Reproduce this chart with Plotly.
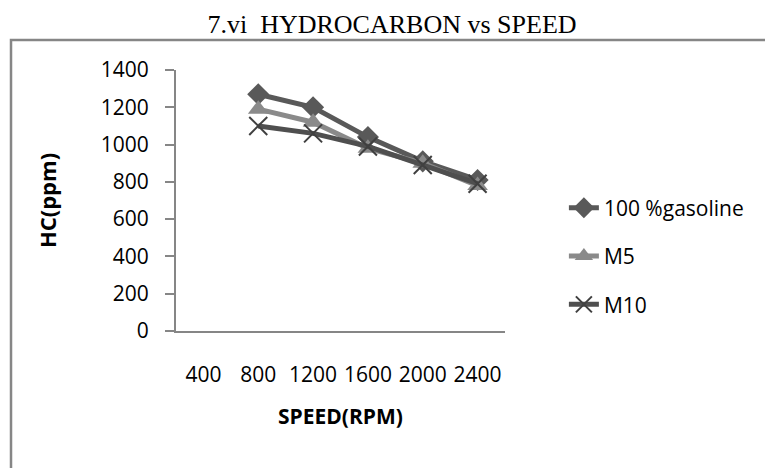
import plotly.graph_objects as go

speed_categories = ["400", "800", "1200", "1600", "2000", "2400"]
speed_measured = ["800", "1200", "1600", "2000", "2400"]
hc_gasoline = [1270, 1200, 1040, 910, 810]
hc_m5 = [1190, 1120, 980, 900, 780]
hc_m10 = [1100, 1060, 990, 890, 790]
y_ticks = [0, 200, 400, 600, 800, 1000, 1200, 1400]

FONT = "Open Sans"
AXIS_GRAY = "#868686"

fig = go.Figure()
fig.add_trace(go.Scatter(
    x=speed_measured, y=hc_gasoline, name="100 %gasoline", mode="lines+markers",
    legendgroup="a",
    line=dict(color="#595959", width=5),
    marker=dict(symbol="diamond", size=17, color="#595959"),
))
fig.add_trace(go.Scatter(
    x=speed_measured, y=hc_m5, name="M5", mode="lines+markers",
    legendgroup="b",
    line=dict(color="#8a8a8a", width=5),
    marker=dict(symbol="triangle-up", size=18, color="#8a8a8a"),
))
fig.add_trace(go.Scatter(
    x=speed_measured, y=hc_m10, name="M10", mode="lines+markers",
    legendgroup="c",
    line=dict(color="#4f4f4f", width=5),
    marker=dict(symbol="x-thin-open", size=18, color="#404040",
                line=dict(color="#404040", width=2)),
))

fig.update_layout(
    width=773, height=468,
    margin=dict(l=168, r=276, t=62, b=145),
    paper_bgcolor="white", plot_bgcolor="white",
    font=dict(family=FONT, size=21, color="#000000"),
    title=dict(text="7.vi  HYDROCARBON vs SPEED", x=(392 - 8) / 773, xanchor="center",
               y=1 - 16 / 468, yanchor="middle",
               font=dict(family="Liberation Serif", size=26, color="#000000")),
    showlegend=True,
    legend=dict(x=1.179, xanchor="left", y=0.287, yanchor="middle",
                traceorder="grouped", tracegroupgap=18,
                font=dict(family=FONT, size=21, color="#000000"),
                bgcolor="rgba(0,0,0,0)"),
    shapes=[dict(type="rect", xref="paper", yref="paper",
                 x0=-0.5015, x1=1.95, y0=-0.65, y1=1.115,
                 line=dict(color=AXIS_GRAY, width=2.5), layer="below")],
)

fig.update_xaxes(
    type="category", categoryorder="array", categoryarray=speed_categories,
    tickvals=speed_categories, ticktext=speed_categories,
    range=[-0.5, 5.5], showgrid=False, zeroline=False,
    showline=True, linecolor=AXIS_GRAY, linewidth=2,
    ticks="", ticklabelstandoff=24,
    title=dict(text="<b>SPEED(RPM)</b>", standoff=22, font=dict(family=FONT, size=21)),
)
fig.update_yaxes(
    range=[0, 1400], tickvals=y_ticks, showgrid=False, zeroline=False,
    showline=True, linecolor=AXIS_GRAY, linewidth=2,
    ticks="outside", ticklen=9, tickcolor=AXIS_GRAY, tickwidth=2,
    ticklabelstandoff=12,
    title=dict(text="<b>HC(ppm)</b>", standoff=38, font=dict(family=FONT, size=22)),
)

fig.write_html("out.html")
